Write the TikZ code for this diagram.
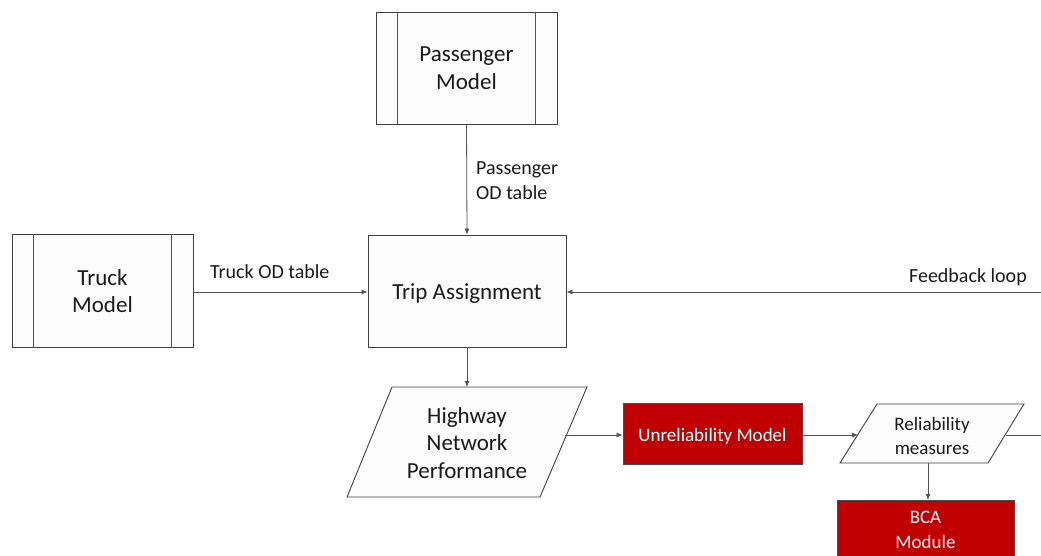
\documentclass[tikz,border=0pt]{standalone}
\usepackage{fontspec}
\setmainfont{Carlito}
\usetikzlibrary{arrows.meta,calc}
\definecolor{edge}{HTML}{404040}
\definecolor{txt}{HTML}{1A1A1A}
\definecolor{boxfill}{HTML}{FCFCFC}
\definecolor{redbox}{HTML}{C00000}
\tikzset{
  proc/.style={draw=edge,fill=boxfill,line width=0.9pt,text=txt,align=center,font=\fontsize{23}{27.5}\selectfont,inner sep=0pt},
  redproc/.style={draw=black!70,fill=redbox,line width=0.9pt,text=white,align=center,font=\fontsize{19}{24}\selectfont,inner sep=0pt},
  para/.style={draw=edge,fill=boxfill,line width=0.9pt},
  conn/.style={draw=edge!90,line width=0.8pt,-{Latex[length=6pt,width=5pt]}},
  plain/.style={draw=edge!90,line width=0.8pt},
  lbl/.style={text=txt,font=\fontsize{20}{25}\selectfont,inner sep=0pt},
}
\begin{document}
\begin{tikzpicture}[x=1pt,y=-1pt]
\useasboundingbox[fill=white] (0,0) rectangle (1041,556);
% Passenger Model
\node[proc,minimum width=181pt,minimum height=112pt] (pm) at (466.5,68) {Passenger\\Model};
\draw[plain] ([xshift=22pt]pm.north west) -- ([xshift=22pt]pm.south west);
\draw[plain] ([xshift=-22pt]pm.north east) -- ([xshift=-22pt]pm.south east);
% Truck Model
\node[proc,minimum width=181pt,minimum height=113pt] (tm) at (102.5,291) {Truck\\Model};
\draw[plain] ([xshift=22pt]tm.north west) -- ([xshift=22pt]tm.south west);
\draw[plain] ([xshift=-22pt]tm.north east) -- ([xshift=-22pt]tm.south east);
% Trip Assignment
\node[proc,minimum width=198pt,minimum height=112pt] (ta) at (467,291) {\raisebox{-3pt}[\height][\depth]{Trip Assignment}};
% Highway parallelogram
\draw[para] (392,387) coordinate (hw-tl) -- (587,387) coordinate (hw-tr) -- (540,497) coordinate (hw-br) -- (347,497) coordinate (hw-bl) -- cycle;
\node[proc,draw=none,fill=none] (hw) at (467,443) {Highway\\Network\\Performance};
\coordinate (hw-in) at (467,387);
\coordinate (hw-out) at (565,435);
% Unreliability Model
\node[redproc,minimum width=179pt,minimum height=61pt] (um) at (712.5,434) {\raisebox{-2.5pt}[\height][\depth]{Unreliability Model}};
% Reliability parallelogram
\draw[para] (877,404) -- (1024,404) -- (988,463) -- (840,463) -- cycle;
\node[proc,draw=none,fill=none,font=\fontsize{19}{24}\selectfont] (rm) at (932,436) {Reliability\\measures};
\coordinate (rm-in) at (858,435);
\coordinate (rm-out) at (1006,435);
\coordinate (rm-bot) at (928,463);
% BCA Module
\node[redproc,minimum width=177pt,minimum height=70pt,anchor=north] (bca) at (925.5,500) {};
\node[text=white,align=center,font=\fontsize{19}{25}\selectfont,inner sep=0pt,anchor=north] (bcat) at (925.5,511) {BCA\\Module};
% free ends
\coordinate (fbstart) at (1041,292);
\coordinate (rmend) at (1041,435);
% connectors
\draw[conn] (pm.south) -- (ta.north);
\node[lbl,align=left,anchor=north west] (pod) at (476,161) {Passenger\\OD table};
\draw[conn] (tm.east |- 0,292) -- (ta.west |- 0,292);
\node[lbl,anchor=south west] (tod) at (210,279) {Truck OD table};
\draw[conn] (fbstart) -- (ta.east |- fbstart);
\node[lbl,anchor=south east] (fbl) at (1027,286) {Feedback loop};
\draw[conn] (ta.south) -- (hw-in);
\draw[conn] (hw-out) -- (um.west |- hw-out);
\draw[conn] (um.east |- rm-in) -- (rm-in);
\draw[plain] (rm-out) -- (rmend);
\draw[conn] (rm-bot) -- (rm-bot |- bca.north);
\end{tikzpicture}
\end{document}
